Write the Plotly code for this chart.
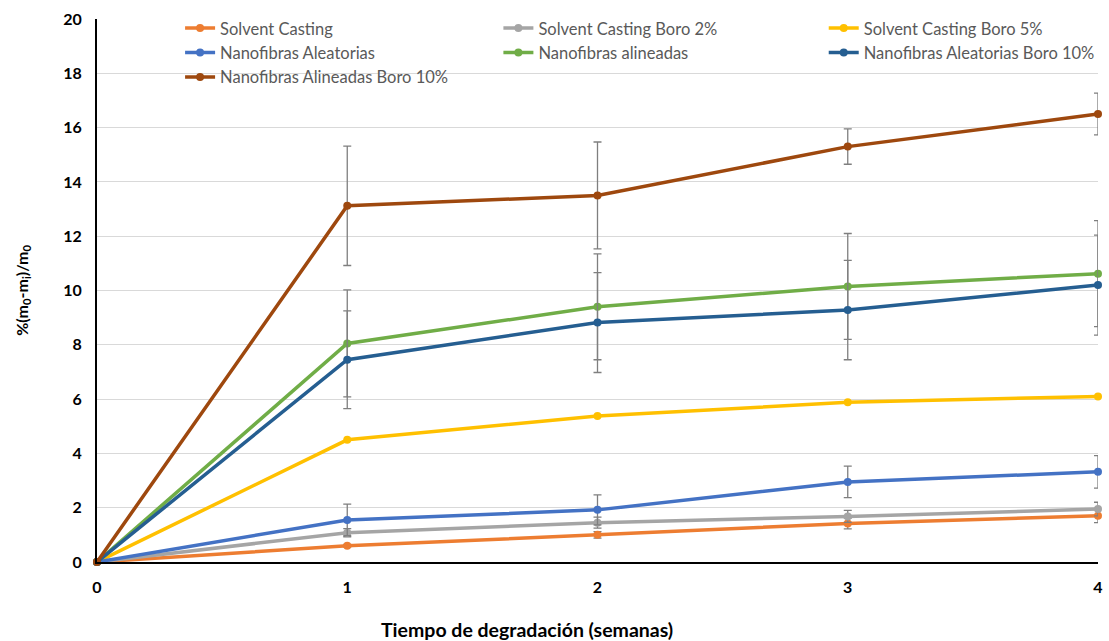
import plotly.graph_objects as go

# Data
weeks = [0, 1, 2, 3, 4]

solvent = [0, 0.6, 1.0, 1.42, 1.7]
solvent_err = [0, 0.05, 0.12, 0.2, 0.25]

boro2 = [0, 1.08, 1.45, 1.68, 1.95]
boro2_err = [0, 0.15, 0.2, 0.22, 0.25]

boro5 = [0, 4.5, 5.38, 5.88, 6.1]

aleat = [0, 1.55, 1.92, 2.95, 3.32]
aleat_err = [0, 0.58, 0.55, 0.58, 0.6]

alin = [0, 8.05, 9.4, 10.15, 10.62]
alin_err = [0, 1.97, 1.95, 1.95, 1.95]

aleat10 = [0, 7.45, 8.82, 9.28, 10.2]
aleat10_err = [0, 1.8, 1.84, 1.83, 1.84]

alin10 = [0, 13.12, 13.5, 15.3, 16.5]
alin10_err = [0, 2.2, 1.97, 0.65, 0.77]

# (name, values, errors, colour, legend column)
series = [
    ("Solvent Casting", solvent, solvent_err, "#ED7D31", "legend"),
    ("Solvent Casting Boro 2%", boro2, boro2_err, "#A5A5A5", "legend2"),
    ("Solvent Casting Boro 5%", boro5, None, "#FFC000", "legend3"),
    ("Nanofibras Aleatorias", aleat, aleat_err, "#4472C4", "legend"),
    ("Nanofibras alineadas", alin, alin_err, "#70AD47", "legend2"),
    ("Nanofibras Aleatorias Boro 10%", aleat10, aleat10_err, "#255E91", "legend3"),
    ("Nanofibras Alineadas Boro 10%", alin10, alin10_err, "#9E480E", "legend"),
]

fig = go.Figure()

for name, vals, err, color, leg in series:
    if err is not None:
        err_vals = [e if e > 0 else None for e in err]
        error_y = dict(type="data", array=err_vals, visible=True,
                       color="#7F7F7F", thickness=1.3, width=4)
    else:
        error_y = dict(visible=False)
    fig.add_trace(go.Scatter(
        x=weeks, y=vals, name=name,
        mode="lines+markers",
        line=dict(color=color, width=3.5),
        marker=dict(color=color, size=8),
        error_y=error_y,
        cliponaxis=False,
        legend=leg,
    ))

font_family = "Lato, 'Open Sans', sans-serif"


def legend_col(xpos):
    return dict(
        orientation="v",
        x=xpos, xanchor="left",
        y=1.015, yanchor="top",
        bgcolor="rgba(255,255,255,0)",
        font=dict(size=16.5, color="#595959", family=font_family),
        tracegroupgap=0,
    )


fig.update_layout(
    width=1109, height=641,
    margin=dict(l=97, r=6, t=19, b=79),
    paper_bgcolor="white",
    plot_bgcolor="white",
    font=dict(family=font_family, color="black"),
    showlegend=True,
    legend=legend_col(0.083),
    legend2=legend_col(0.401),
    legend3=legend_col(0.726),
    annotations=[
        dict(text="<b>Tiempo de degradación (semanas)</b>",
             x=0.4294, y=-0.125, xref="paper", yref="paper",
             xanchor="center", yanchor="middle", showarrow=False,
             font=dict(size=19.5, color="black")),
        dict(text="<b>%(m<sub>0</sub>-m<sub>i</sub>)/m<sub>0</sub></b>",
             x=-0.0746, y=0.5, xref="paper", yref="paper",
             xanchor="center", yanchor="middle", showarrow=False,
             textangle=-90,
             font=dict(size=16, color="black")),
    ],
)

fig.update_xaxes(
    range=[0, 4], dtick=1,
    showgrid=False, zeroline=False,
    showline=True, linecolor="black", linewidth=2,
    ticks="", ticklabelstandoff=10,
    tickfont=dict(size=16, color="black", family=font_family, weight="bold"),
)
fig.update_yaxes(
    range=[0, 20], dtick=2,
    showgrid=True, gridcolor="#D9D9D9", gridwidth=1,
    zeroline=False,
    showline=True, linecolor="black", linewidth=2,
    ticks="", ticklabelstandoff=10,
    tickfont=dict(size=16, color="black", family=font_family, weight="bold"),
)

fig.write_html("out.html", config={"displayModeBar": False},
               post_script="document.body.style.margin='0';")
